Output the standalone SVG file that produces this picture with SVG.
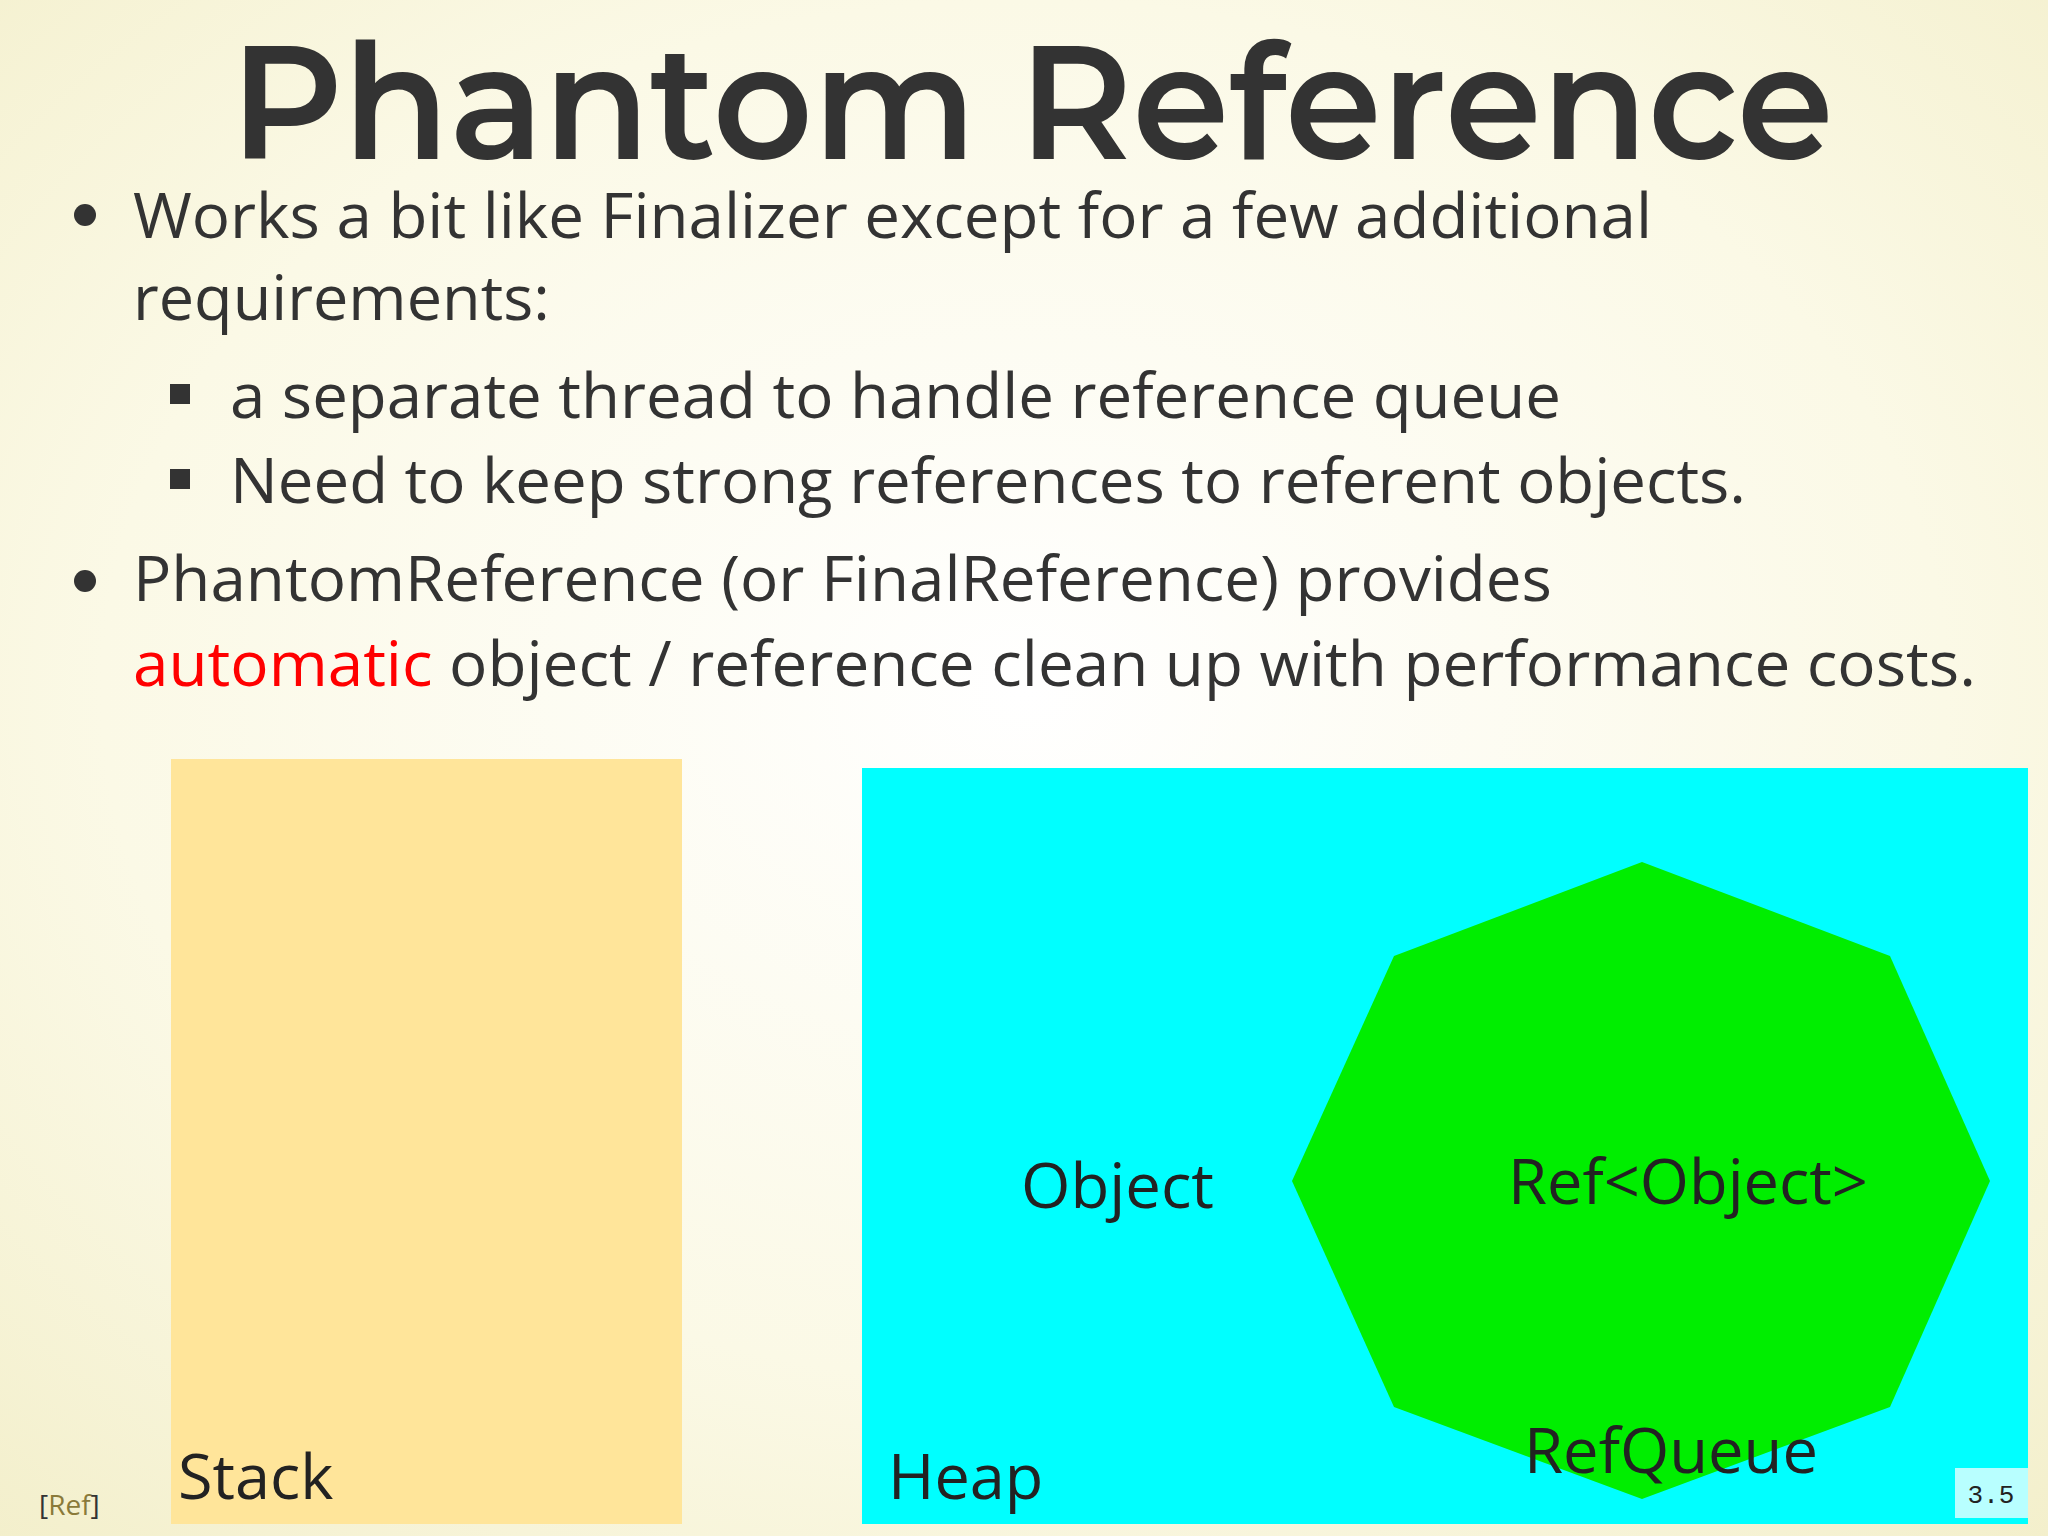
<svg xmlns="http://www.w3.org/2000/svg" width="2048" height="1536" viewBox="0 0 2048 1536">
<defs>
<radialGradient id="bg" cx="0.5" cy="0.45" r="0.75">
<stop offset="0" stop-color="#FFFFFF"/><stop offset="0.6" stop-color="#FBF9E6"/><stop offset="1" stop-color="#F3EFCB"/>
</radialGradient>
<style>
.t{font-family:"Open Sans","Noto Sans",sans-serif;fill:#333333}
.b{font-size:63px}
.l{font-size:63px;fill:#222}
</style>
</defs>
<rect width="2048" height="1536" fill="url(#bg)"/>
<text class="t" x="1032" y="159" text-anchor="middle" font-size="160" font-weight="600" textLength="1603" lengthAdjust="spacingAndGlyphs" style="font-family:Montserrat,'Open Sans',sans-serif">Phantom Reference</text>
<circle cx="85" cy="215" r="11" fill="#333"/>
<circle cx="85" cy="581" r="11" fill="#333"/>
<rect x="170" y="384" width="20" height="20" fill="#333"/>
<rect x="170" y="469" width="20" height="20" fill="#333"/>
<text class="t b" x="133" y="238" textLength="1519" lengthAdjust="spacingAndGlyphs">Works a bit like Finalizer except for a few additional</text>
<text class="t b" x="133" y="320">requirements:</text>
<text class="t b" x="230" y="418" textLength="1331" lengthAdjust="spacingAndGlyphs">a separate thread to handle reference queue</text>
<text class="t b" x="230" y="503" textLength="1516" lengthAdjust="spacingAndGlyphs">Need to keep strong references to referent objects.</text>
<text class="t b" x="133" y="601" textLength="1419" lengthAdjust="spacingAndGlyphs">PhantomReference (or FinalReference) provides</text>
<text class="t b" x="133" y="686" textLength="1843" lengthAdjust="spacingAndGlyphs"><tspan fill="#FF0000">automatic</tspan> object / reference clean up with performance costs.</text>
<g id="stack">
<rect x="171" y="759" width="511" height="765" fill="#FFE59A"/>
<text class="t l" x="178" y="1499">Stack</text>
</g>
<g id="heap">
<rect x="862" y="768" width="1166" height="756" fill="#00FFFF"/>
<text class="t l" x="888" y="1499">Heap</text>
</g>
<g id="refqueue">
<polygon points="1642,862 1890,956 1990,1181 1890,1407 1642,1499 1394,1407 1292,1181 1394,956" fill="#00EE00"/>
<text class="t l" x="1524" y="1473" textLength="294" lengthAdjust="spacingAndGlyphs">RefQueue</text>
</g>
<g id="object"><text class="t l" x="1021" y="1208" textLength="193" lengthAdjust="spacingAndGlyphs">Object</text></g>
<g id="ref"><text class="t l" x="1508" y="1204" textLength="360" lengthAdjust="spacingAndGlyphs">Ref&lt;Object&gt;</text></g>
<g id="connectors"></g>
<text x="39" y="1515" font-family="'Open Sans',sans-serif" font-size="28" fill="#333">[<tspan fill="#8A7A3A">Ref</tspan>]</text>
<rect x="1955" y="1468" width="73" height="50" fill="#B8FFFF"/>
<text x="1991" y="1503" text-anchor="middle" font-family="'Liberation Mono',monospace" font-size="26" fill="#222">3.5</text>
</svg>
